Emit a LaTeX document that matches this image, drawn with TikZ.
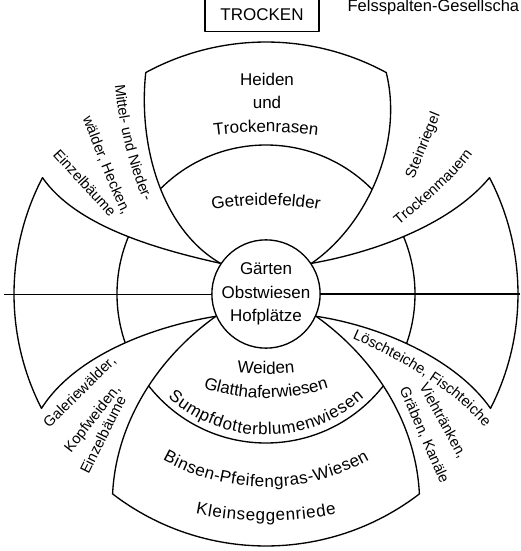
\documentclass[tikz,border=0pt]{standalone}
\usepackage{fontspec}
\setmainfont{Liberation Sans}
\usetikzlibrary{calc,decorations.text}

\newcommand{\gross}{\fontsize{10.2}{14}\selectfont}
\newcommand{\klein}{\fontsize{8.8}{10}\selectfont}

% Umrisse der vier Blaetter
\newcommand{\blattOben}{(mitte.146) .. controls (-105,65) and (-128,150) .. (118.5:252) arc[start angle=118.5, end angle=61.5, radius=252] .. controls (138,150) and (100,68) .. (mitte.34)}
\newcommand{\blattLinks}{(mitte.146) .. controls (-110,45) and (-190,68) .. (152.5:252) arc[start angle=152.5, end angle=207, radius=252] .. controls (-190,-60) and (-110,-32) .. (mitte.204)}
\newcommand{\blattUnten}{(mitte.204) .. controls (-110,-65) and (-150,-130) .. (232.5:252) arc[start angle=232.5, end angle=307.5, radius=252] .. controls (150,-130) and (110,-65) .. (mitte.336)}
\newcommand{\blattRechts}{(mitte.34) .. controls (110,42) and (185,70) .. (27.5:252) arc[start angle=27.5, end angle=-27, radius=252] .. controls (190,-65) and (115,-32) .. (mitte.336)}

\tikzset{bogentext/.style={decorate, decoration={text along path, text={#1}, text align=center}},
  bogenfit/.style={decorate, decoration={text along path, text={#1}, text align={fit to path}}}}

% Text auf Kreisbogen (Mittelpunkt (0,cy), Radius r, Winkel)
\newcommand{\bogenOben}[4]{\path[bogentext={#4}] ($(0,#1)+(90+#3:#2)$) arc[start angle=90+#3, end angle=90-#3, radius=#2];}
\newcommand{\bogenUnten}[5][bogentext]{\path[#1={#5}] ($(0,#2)+(270-#4:#3)$) arc[start angle=270-#4, end angle=270+#4, radius=#3];}

\begin{document}
\begin{tikzpicture}[x=0.6pt, y=0.6pt, line width=0.8pt, line join=round,
    feld/.style={font=\gross, inner sep=0pt}]
    \useasboundingbox (-266,-257) rectangle (254,294);
    \clip (-266,-257) rectangle (254,294);
    % Mitte
    \node[circle, draw, minimum size=64.8pt, inner sep=0pt, align=center, font=\gross] (mitte) at (0,0) {Gärten\\Obstwiesen\\Hofplätze};
    % Blaetter
    \draw \blattOben;
    \draw \blattLinks;
    \draw \blattUnten;
    \draw \blattRechts;
    % innerer Ring
    \foreach \blatt in {\blattOben, \blattLinks, \blattUnten, \blattRechts} {
      \begin{scope}
        \clip \blatt -- cycle;
        \draw (0,0) circle (149);
      \end{scope}
    }
    % Waagrechte
    \draw[line width=0.6pt] (-262,0) -- (mitte.west);
    \draw[line width=1.2pt] (mitte.east) -- (256,0);
    % Kopf
    \node[draw, anchor=south, minimum width=68.4pt, minimum height=19.5pt, font=\gross] (trocken) at (-4,262) {TROCKEN};
    \node[anchor=base west, inner sep=0pt, font=\fontsize{9.9}{12}\selectfont] (fels) at (81,282.3) {Felsspalten-Gesellscha};
    % Texte oben
    \node[feld, anchor=base] (heiden) at (1,209) {Heiden};
    \node[feld, anchor=base] (und) at (1,186) {und};
    \bogenOben{-238}{400}{10}{|\gross|Trockenrasen}
    \bogenOben{-211}{300}{15}{|\gross|Getreidefelder}
    % Texte unten
    \bogenUnten{170}{250}{10}{|\gross|Weiden}
    \bogenUnten{96}{200}{25}{|\gross|Glatthaferwiesen}
    \bogenUnten[bogenfit]{7}{148}{41.5}{|\gross|Sumpfdotterblumenwiesen}
    \bogenUnten[bogenfit]{17}{210}{29.5}{|\gross|Binsen-Pfeifengras-Wiesen}
    \bogenUnten[bogenfit]{126}{353}{11.5}{|\gross|Kleinseggenriede}
    % Texte zwischen den Blaettern
    \path[bogentext={|\klein|Mittel- und Nieder-}] (-152,218) .. controls (-148,170) and (-136,120) .. (-118,84);
    \path[bogentext={|\klein|wälder, Hecken,}] (-186,183) .. controls (-172,146) and (-158,108) .. (-140,72);
    \path[bogentext={|\klein|Einzelbäume}] (-222,148) -- (-148,67);
    \path[bogentext={|\klein|Steinriegel}] (140,96) -- (182,198);
    \path[bogentext={|\klein|Trockenmauern}] (126,63) .. controls (160,92) and (190,115) .. (212,147);
    \path[bogentext={|\klein|Galeriewälder,}] (-224,-141) -- (-142,-61);
    \path[bogentext={|\klein|Kopfweiden,}] (-200,-166) -- (-140,-89);
    \path[bogentext={|\klein|Einzelbäume}] (-181,-188) -- (-136,-98);
    \path[bogentext={|\klein|Löschteiche, Fischteiche}] (76,-40) .. controls (128,-62) and (190,-95) .. (226,-142);
    \path[bogentext={|\klein|Viehtränken,}] (145,-78) -- (201,-180);
    \path[bogentext={|\klein|Gräben, Kanäle}] (129,-86) -- (179,-200);
\end{tikzpicture}
\end{document}
